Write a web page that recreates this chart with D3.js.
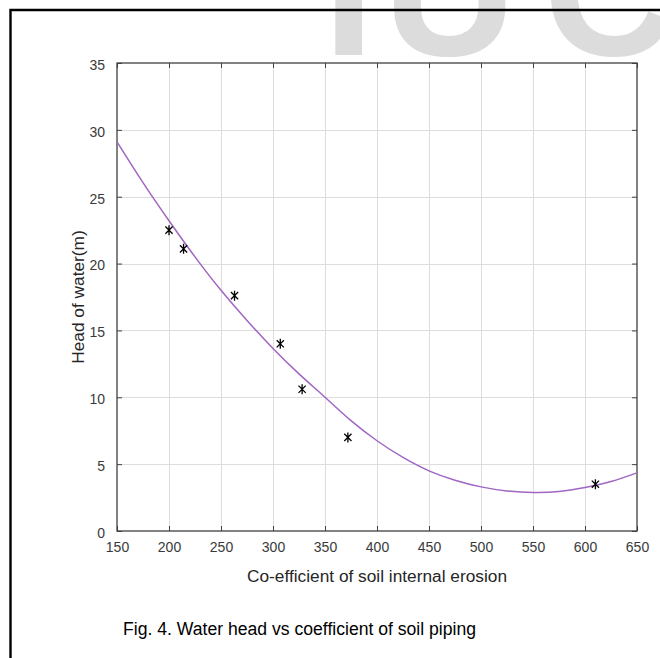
<!DOCTYPE html>
<html>
<head>
<meta charset="utf-8">
<script src="https://d3js.org/d3.v7.min.js"></script>
<style>
  body { margin: 0; background: #fff; }
  svg { display: block; font-family: "Liberation Sans", Arial, sans-serif; }
</style>
</head>
<body>
<svg id="mySVG" width="660" height="658"></svg>
<script>
// measured points (asterisks)
var erosion = [200, 214, 263, 307, 328, 372, 610];
var head = [22.5, 21.1, 17.6, 14.0, 10.6, 7.0, 3.5];

// fitted curve, every 25 units
var fitX = [150, 175, 200, 225, 250, 275, 300, 325, 350, 375, 400, 425, 450, 475, 500, 525, 550, 575, 600, 625, 650];
var fitY = [29.1, 26.05, 23.2, 20.5, 18.0, 15.75, 13.65, 11.75, 10.0, 8.25, 6.75, 5.5, 4.5, 3.8, 3.3, 3.0, 2.88, 2.95, 3.25, 3.7, 4.35];

var xTicks = [150, 200, 250, 300, 350, 400, 450, 500, 550, 600, 650];
var yTicks = [0, 5, 10, 15, 20, 25, 30, 35];

var svg = d3.select('#mySVG');

// watermark behind everything (only its bottom is on the page)
var wm = svg.append('g')
  .attr('fill', '#dcdcdc')
  .style('font-weight', 'bold')
  .style('font-size', '185px');
wm.append('text').attr('x', 323).attr('y', 55).text('I');
wm.append('text').attr('x', 383).attr('y', 55).text('U');
wm.append('text').attr('x', 543).attr('y', 55).text('C');

// page frame
svg.append('path')
  .attr('d', 'M10.5,658 V10 H660')
  .attr('fill', 'none')
  .attr('stroke', '#000')
  .attr('stroke-width', 2.4);

var x = d3.scaleLinear().domain([150, 650]).range([117, 637]);
var y = d3.scaleLinear().domain([0, 35]).range([531, 63]);

// grid
var grid = svg.append('g').attr('stroke', '#dedede').attr('stroke-width', 1);
grid.selectAll('.gx').data(xTicks.slice(1, -1)).enter().append('line')
  .attr('x1', function(d){ return Math.round(x(d)) + 0.5; })
  .attr('x2', function(d){ return Math.round(x(d)) + 0.5; })
  .attr('y1', y(0)).attr('y2', y(35));
grid.selectAll('.gy').data(yTicks.slice(1, -1)).enter().append('line')
  .attr('y1', function(d){ return Math.round(y(d)) + 0.5; })
  .attr('y2', function(d){ return Math.round(y(d)) + 0.5; })
  .attr('x1', x(150)).attr('x2', x(650));

// axes (box with inward ticks)
var axisColor = '#404040';
function styleAxis(g) {
  g.select('.domain').remove();
  g.selectAll('.tick line').attr('stroke', axisColor);
  g.selectAll('.tick text').attr('fill', '#3a3a3a').style('font-size', '14px').style('font-family', '"Liberation Sans", Arial, sans-serif');
}

svg.append('g')
  .attr('transform', 'translate(0,' + y(0) + ')')
  .call(d3.axisBottom(x).tickValues(xTicks).tickSizeInner(-5).tickSizeOuter(0).tickPadding(11))
  .call(styleAxis);

svg.append('g')
  .attr('transform', 'translate(0,' + y(35) + ')')
  .call(d3.axisTop(x).tickValues(xTicks).tickSizeInner(-5).tickSizeOuter(0).tickFormat(''))
  .call(styleAxis);

svg.append('g')
  .attr('transform', 'translate(' + x(150) + ',0)')
  .call(d3.axisLeft(y).tickValues(yTicks).tickSizeInner(-5).tickSizeOuter(0).tickPadding(12))
  .call(styleAxis)
  .selectAll('.tick text').attr('dy', '0.45em');

svg.append('g')
  .attr('transform', 'translate(' + x(650) + ',0)')
  .call(d3.axisRight(y).tickValues(yTicks).tickSizeInner(-5).tickSizeOuter(0).tickFormat(''))
  .call(styleAxis);

svg.append('rect')
  .attr('x', x(150)).attr('y', y(35))
  .attr('width', x(650) - x(150)).attr('height', y(0) - y(35))
  .attr('fill', 'none')
  .attr('stroke', axisColor)
  .attr('stroke-width', 1.3);

// fitted curve
var fitLine = d3.line()
  .x(function(d, i){ return x(fitX[i]); })
  .y(function(d){ return y(d); })
  .curve(d3.curveNatural);

svg.append('path')
  .attr('d', fitLine(fitY))
  .attr('fill', 'none')
  .attr('stroke', '#a066c2')
  .attr('stroke-width', 1.5);

// asterisk marker like matlab '*'
var star = {
  draw: function(ctx, size) {
    var r = Math.sqrt(size) / 2;
    var k = r * 0.72;
    ctx.moveTo(0, -r); ctx.lineTo(0, r);
    ctx.moveTo(-k, -k); ctx.lineTo(k, k);
    ctx.moveTo(-k, k); ctx.lineTo(k, -k);
  }
};

svg.selectAll('.pt').data(head).enter().append('path')
  .attr('class', 'pt')
  .attr('transform', function(d, i){ return 'translate(' + x(erosion[i]) + ',' + y(d) + ')'; })
  .attr('d', d3.symbol().type(star).size(100))
  .attr('fill', 'none')
  .attr('stroke', '#000')
  .attr('stroke-width', 1.3);

// labels
svg.append('text')
  .attr('x', (x(150) + x(650)) / 2)
  .attr('y', 582)
  .attr('text-anchor', 'middle')
  .attr('fill', '#262626')
  .style('font-size', '17.3px')
  .text('Co-efficient of soil internal erosion');

svg.append('text')
  .attr('transform', 'translate(84,' + (y(0) + y(35)) / 2 + ') rotate(-90)')
  .attr('text-anchor', 'middle')
  .attr('fill', '#262626')
  .style('font-size', '17.3px')
  .text('Head of water(m)');

svg.append('text')
  .attr('x', 123)
  .attr('y', 635)
  .attr('fill', '#000')
  .style('font-size', '17.6px')
  .text('Fig. 4. Water head vs coefficient of soil piping');
</script>
</body>
</html>
